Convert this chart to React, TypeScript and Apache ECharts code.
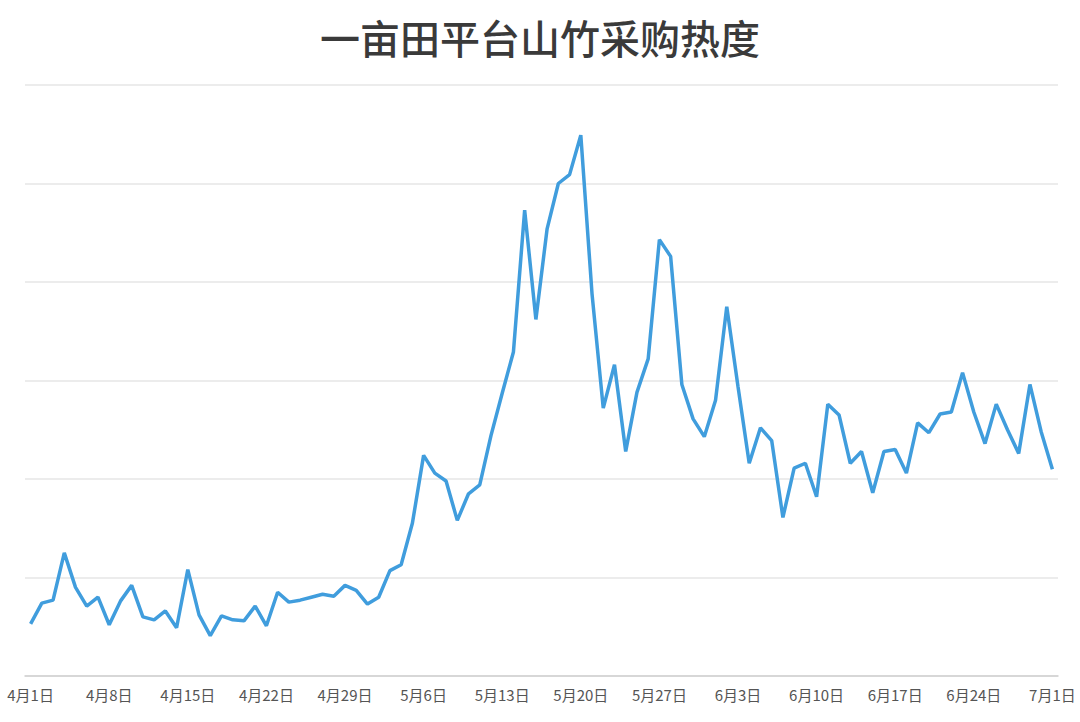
import React, { useEffect, useRef } from "react";
import * as echarts from "echarts";

const TITLE = "一亩田平台山竹采购热度";

// Daily categories 4月1日 … 7月1日
const MONTH_DAYS: [number, number][] = [
  [4, 30],
  [5, 31],
  [6, 30],
  [7, 1],
];
const categories: string[] = [];
MONTH_DAYS.forEach(([m, n]) => {
  for (let d = 1; d <= n; d++) categories.push(`${m}月${d}日`);
});

// Purchase heat values
const heat: number[] = [
  53, 74, 77, 125, 90, 71, 80, 52, 76, 92,
  60, 57, 66, 49, 108, 62, 41, 61, 57, 56,
  71, 51, 85, 75, 77, 80, 83, 81, 92, 87,
  73, 80, 107, 113, 155, 224, 206, 198, 158, 185,
  194, 244, 287, 329, 473, 362, 454, 500, 509, 549,
  388, 272, 316, 228, 288, 322, 443, 426, 296, 261,
  243, 280, 375, 294, 216, 252, 239, 161, 211, 216,
  182, 276, 265, 216, 228, 186, 228, 230, 206, 257,
  247, 266, 268, 308, 268, 236, 276, 250, 226, 296,
  248, 210,
];

export default function App() {
  const ref = useRef<HTMLDivElement>(null);
  useEffect(() => {
    document.body.style.margin = "0";
    if (!ref.current) return;
    const chart = echarts.init(ref.current, undefined, { renderer: "svg" });
    chart.setOption({
      animation: false,
      backgroundColor: "#ffffff",
      title: {
        text: TITLE,
        left: "center",
        top: 12,
        textStyle: {
          fontSize: 40,
          fontWeight: 500,
          color: "#3a3a3a",
          fontFamily: "Noto Sans CJK SC",
        },
      },
      grid: { left: 25, right: 22, top: 85, bottom: 46, containLabel: false },
      xAxis: {
        type: "category",
        data: categories,
        boundaryGap: true,
        axisLine: { lineStyle: { color: "#d0d0d0", width: 1.5 } },
        axisTick: { interval: 6, length: 6, lineStyle: { color: "#d0d0d0", width: 1.5 } },
        axisLabel: {
          interval: 6,
          color: "#555555",
          fontSize: 15,
          margin: 11,
          fontFamily: "Noto Sans CJK SC",
        },
        splitLine: { show: false },
      },
      yAxis: {
        type: "value",
        min: 0,
        max: 600,
        interval: 100,
        axisLabel: { show: false },
        axisLine: { show: false },
        axisTick: { show: false },
        splitLine: { lineStyle: { color: "#e6e6e6", width: 1.5 } },
      },
      series: [
        {
          type: "line",
          data: heat,
          symbol: "none",
          lineStyle: { color: "#409ddd", width: 3.5 },
          itemStyle: { color: "#409ddd" },
        },
      ],
    });
    return () => chart.dispose();
  }, []);
  return <div ref={ref} style={{ width: 1080, height: 722 }} />;
}
